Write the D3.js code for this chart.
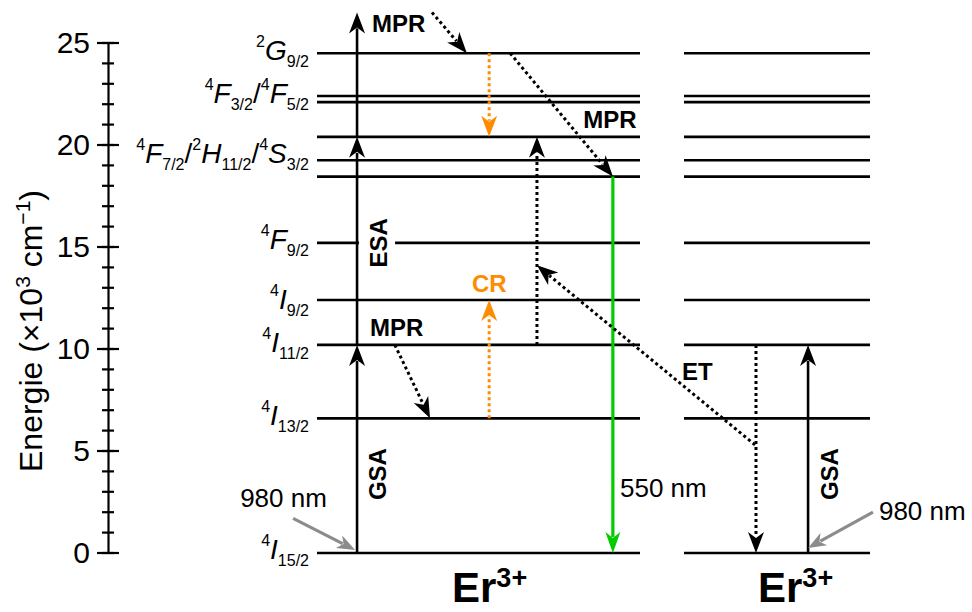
<!DOCTYPE html>
<html><head><meta charset="utf-8">
<script src="https://cdn.jsdelivr.net/npm/d3@7"></script>
<style>
body{margin:0;background:#fff}
text{font-family:"Liberation Sans",Arial,sans-serif}
</style>
</head><body>
<svg id="c" width="972" height="612"></svg>
<script>
// ---------- DATA ----------
const levelNames    = ["4I15/2","4I13/2","4I11/2","4I9/2","4F9/2","4S3/2","2H11/2","4F7/2","4F5/2","4F3/2","2G9/2"];
const levelEnergies = [0, 6.6, 10.2, 12.4, 15.2, 18.45, 19.25, 20.4, 22.1, 22.4, 24.5]; // x10^3 cm^-1
const majorTicks = [0, 5, 10, 15, 20, 25];
const minorTicks = [0,1,2,3,4,5,6,7,8,9,10,11,12,13,14,15,16,17,18,19,20,21,22,23,24,25];
const axisTitle = "Energie";
const ionName = "Er";
const ionCharge = "3+";

// level labels: parts [type, text] ; anchor energy
const levelLabelParts = [
  [["sup","4"],["it","I"],["sub","15/2"]],
  [["sup","4"],["it","I"],["sub","13/2"]],
  [["sup","4"],["it","I"],["sub","11/2"]],
  [["sup","4"],["it","I"],["sub","9/2"]],
  [["sup","4"],["it","F"],["sub","9/2"]],
  [["sup","4"],["it","F"],["sub","7/2"],["n","/"],["sup","2"],["it","H"],["sub","11/2"],["n","/"],["sup","4"],["it","S"],["sub","3/2"]],
  [["sup","4"],["it","F"],["sub","3/2"],["n","/"],["sup","4"],["it","F"],["sub","5/2"]],
  [["sup","2"],["it","G"],["sub","9/2"]]
];
const levelLabelEnergy = [0, 6.6, 10.2, 12.4, 15.2, 19.25, 22.1, 24.5];

// transitions: from / to energies, kind
const transNames = ["GSA","ESA","ESA2","MPR1","CRdown","MPR2","ETup","Green","MPR3","CRup","ET","ETdown","GSA2","Pump1","Pump2"];
const transFrom  = [0,   10.2, 20.4, 26.5, 24.5, 24.5, 10.2, 18.45, 10.2, 6.6, 5.3, 10.2, 0,   1.7, 2.0];
const transTo    = [10.2,20.4, 26.5, 24.5, 20.4, 18.45,20.4, 0,     6.6, 12.4,14.1, 0,   10.2,0.15,0.25];
const transKind  = ["solid","solid","solid","dot","odot","dot","dot","green","dot","odot","dot","dot","solid","grey","grey"];

// ---------- LAYOUT ----------
const svg = d3.select("#c");
const y = d3.scaleLinear().domain([0,25]).range([553,43]);
const xL = d3.scaleLinear().domain([0,1]).range([317,640]);
const xR = d3.scaleLinear().domain([0,1]).range([684,870]);
const axisX = 108;
const ORANGE = "#ff8c00", GREEN = "#00cc00", GREY = "#8c8c8c";

const transPos = [
  ["L",.124,"L",.124],["L",.124,"L",.124],["L",.124,"L",.124],
  ["L",.356,"L",.464],["L",.533,"L",.533],["L",.598,"L",.916],
  ["L",.681,"L",.681],["L",.916,"L",.916],["L",.241,"L",.350],
  ["L",.533,"L",.533],["R",.382,"L",.681],["R",.387,"R",.387],
  ["R",.667,"R",.667],["L",-.074,"L",.118],["R",1.016,"R",.667]
];
const gx = (g,f) => g==="L" ? xL(f) : xR(f);

// ---------- AXIS ----------
const ax = svg.append("g").attr("transform",`translate(${axisX},0)`)
  .call(d3.axisLeft(y).tickValues(majorTicks).tickSize(0).tickPadding(18).tickFormat(d3.format("d")));
ax.select(".domain").attr("stroke","#000").attr("stroke-width",2.2);
ax.selectAll(".tick text").attr("font-size",30).attr("fill","#000").attr("font-family","Liberation Sans, Arial, sans-serif");
ax.selectAll(".tick line").remove();
const tg = svg.append("g").attr("transform",`translate(${axisX},0)`);
tg.selectAll("line.minor").data(minorTicks).join("line")
  .attr("x1",-6).attr("x2",6).attr("y1",d=>y(d)).attr("y2",d=>y(d))
  .attr("stroke","#000").attr("stroke-width",2.2);
tg.selectAll("line.major").data(majorTicks).join("line")
  .attr("x1",-11).attr("x2",11).attr("y1",d=>y(d)).attr("y2",d=>y(d))
  .attr("stroke","#000").attr("stroke-width",2.2);

// axis title
const at = svg.append("text").attr("transform",`translate(42,${331}) rotate(-90)`)
  .attr("text-anchor","middle").attr("font-size",32).attr("fill","#000");
at.append("tspan").text(axisTitle + " (\u00d710");
at.append("tspan").attr("dy",-12).attr("font-size",21).text("3");
at.append("tspan").attr("dy",12).text(" cm");
at.append("tspan").attr("dy",-12).attr("font-size",21).text("\u22121");
at.append("tspan").attr("dy",12).text(")");

// ---------- LEVELS ----------
svg.append("g").selectAll("line").data(levelEnergies).join("line")
  .attr("x1",xL(0)).attr("x2",xL(1)).attr("y1",d=>y(d)).attr("y2",d=>y(d))
  .attr("stroke","#000").attr("stroke-width",2.6);
svg.append("g").selectAll("line").data(levelEnergies).join("line")
  .attr("x1",xR(0)).attr("x2",xR(1)).attr("y1",d=>y(d)).attr("y2",d=>y(d))
  .attr("stroke","#000").attr("stroke-width",2.6);

// level labels
const labelShift = [6, 7, 7, 9, 6, 3, 1, 7];
levelLabelParts.forEach((parts,i)=>{
  const t = svg.append("text").attr("x",309).attr("y",y(levelLabelEnergy[i])+labelShift[i])
    .attr("text-anchor","end").attr("fill","#000").attr("font-size",28);
  let off = 0;
  parts.forEach(([type,txt])=>{
    let target = 0, fs = 28, st = "normal";
    if(type==="sup"){target=-13; fs=16;}
    else if(type==="sub"){target=7; fs=16;}
    else if(type==="it"){st="italic";}
    t.append("tspan").attr("dy",target-off).attr("font-size",fs).attr("font-style",st).text(txt);
    off = target;
  });
});

// ---------- ESA label background ----------
const mainX = xL(.124);
svg.append("rect").attr("x",mainX+2).attr("y",y(15.2)-26).attr("width",36).attr("height",52).attr("fill","#fff");

// ---------- ARROWS ----------
function arrow(x0,y0,x1,y1,color,dashed,w,L,W,N){
  const dx=x1-x0, dy=y1-y0, len=Math.hypot(dx,dy), ux=dx/len, uy=dy/len;
  const ex = x1-ux*(L-N+1), ey = y1-uy*(L-N+1);
  svg.append("line").attr("x1",x0).attr("y1",y0).attr("x2",ex).attr("y2",ey)
    .attr("stroke",color).attr("stroke-width",w)
    .attr("stroke-dasharray",dashed?"3,3":null);
  const px=-uy, py=ux;
  const bx=x1-ux*L, by=y1-uy*L, nx=x1-ux*(L-N), ny=y1-uy*(L-N);
  svg.append("path").attr("d",`M${x1},${y1}L${bx+px*W/2},${by+py*W/2}L${nx},${ny}L${bx-px*W/2},${by-py*W/2}Z`)
    .attr("fill",color);
}
transFrom.forEach((e0,i)=>{
  const p = transPos[i], k = transKind[i];
  const x0 = gx(p[0],p[1]), x1 = gx(p[2],p[3]);
  const y0 = y(e0), y1 = y(transTo[i]);
  if(k==="solid") arrow(x0,y0,x1,y1,"#000",false,2.6,21,16,6);
  else if(k==="dot") arrow(x0,y0,x1,y1,"#000",true,3,21,16,6);
  else if(k==="odot") arrow(x0,y0,x1,y1,ORANGE,true,3,21,16,6);
  else if(k==="green") arrow(x0,y0,x1,y1,GREEN,false,3.2,21,15,6);
  else if(k==="grey") arrow(x0,y0,x1,y1,GREY,false,3.2,18,14,5);
});

// ---------- ANNOTATIONS ----------
function label(txt,x,yy,opts){
  const t = svg.append("text").attr("x",x).attr("y",yy).text(txt)
    .attr("font-size",opts.fs||24).attr("font-weight",opts.bold?"bold":"normal")
    .attr("fill",opts.color||"#000");
  if(opts.anchor) t.attr("text-anchor",opts.anchor);
  if(opts.rot) t.attr("transform",`rotate(-90,${x},${yy})`);
  return t;
}
label("MPR", xL(.170), y(25.54), {bold:true});
label("MPR", xL(.824), y(20.83), {bold:true});
label("MPR", xL(.164), y(10.64), {bold:true});
label("CR",  xL(.480), y(12.79), {bold:true, color:ORANGE});
label("ET",  xR(-.011), y(8.48), {bold:true});
label("ESA", mainX+30, y(15.2), {bold:true, rot:true, anchor:"middle"});
label("GSA", mainX+29, y(3.87), {bold:true, rot:true, anchor:"middle"});
label("GSA", xR(.667)+30, y(3.87), {bold:true, rot:true, anchor:"middle"});
label("550 nm", xL(.938), y(2.75), {fs:26});
label("980 nm", xL(-.238), y(2.25), {fs:26});
label("980 nm", xR(1.048), y(1.62), {fs:26});

// ion names
[[452],[758]].forEach(([x])=>{
  const t = svg.append("text").attr("x",x).attr("y",602).attr("font-weight","bold").attr("font-size",42).attr("fill","#000");
  t.append("tspan").text(ionName);
  t.append("tspan").attr("dy",-15).attr("font-size",27).text(ionCharge);
});
</script>
</body></html>
